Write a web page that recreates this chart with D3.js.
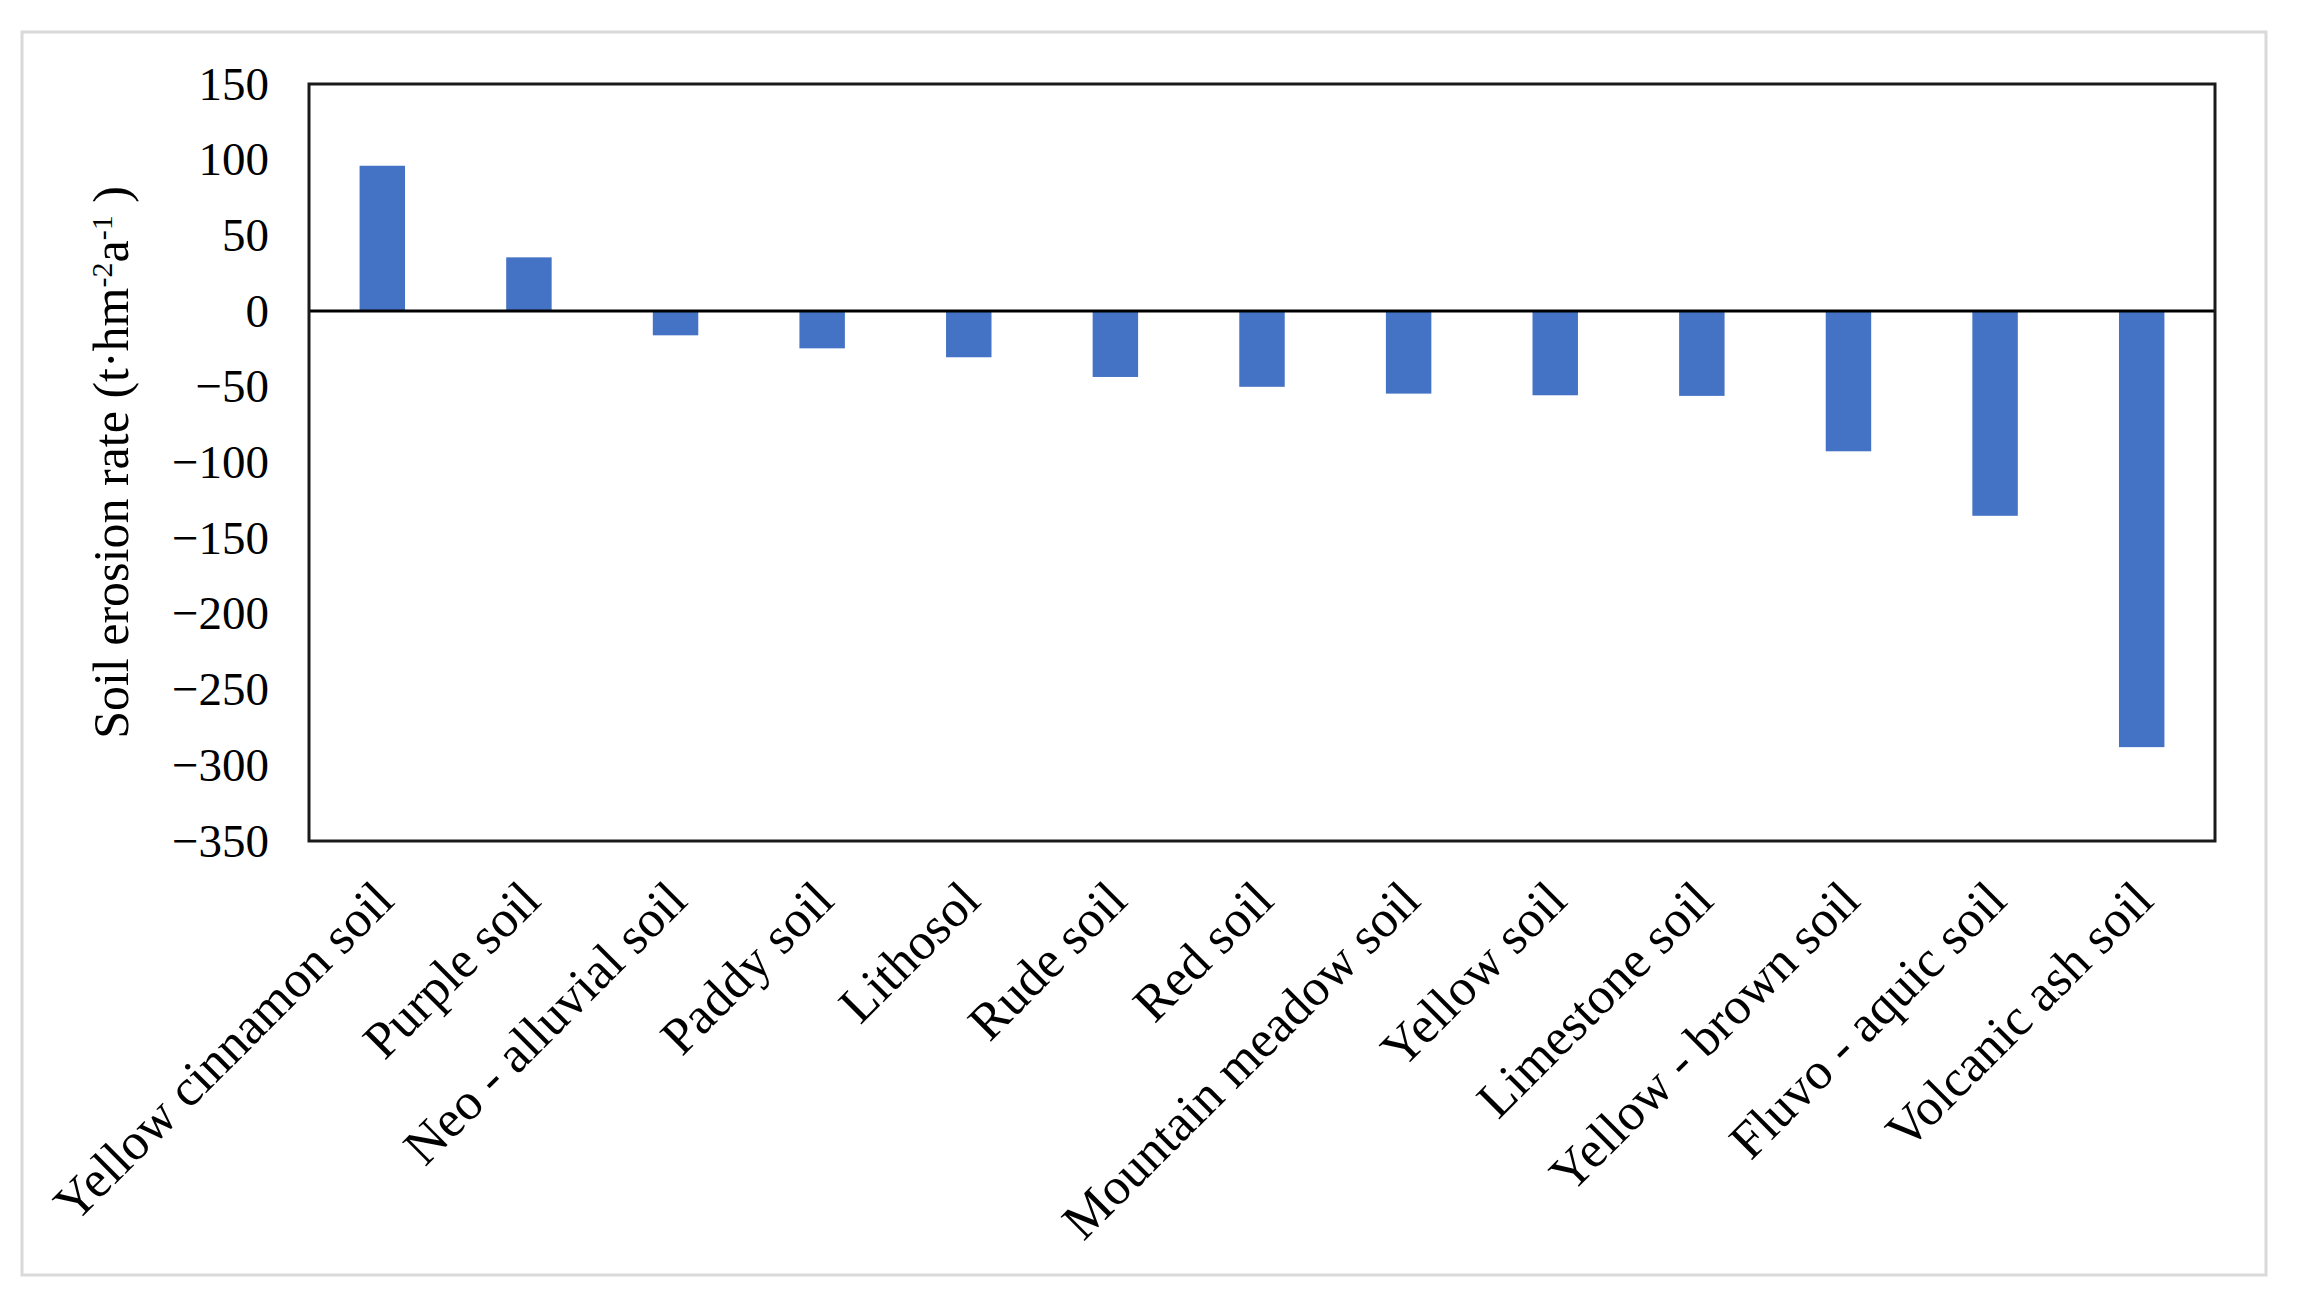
<!DOCTYPE html>
<html>
<head>
<meta charset="utf-8">
<script src="https://cdn.jsdelivr.net/npm/d3@7/dist/d3.min.js"></script>
<style>
  html, body { margin: 0; padding: 0; background: #ffffff; }
  svg text { font-family: "Liberation Serif", "Times New Roman", serif; fill: #000; }
</style>
</head>
<body>
<svg id="chart" width="2302" height="1309"></svg>
<script>
const categories = [
  "Yellow cinnamon soil", "Purple soil", "Neo - alluvial soil", "Paddy soil",
  "Lithosol", "Rude soil", "Red soil", "Mountain meadow soil", "Yellow soil",
  "Limestone soil", "Yellow - brown soil", "Fluvo - aquic soil", "Volcanic ash soil"
];
const erosionRate = [96, 35.5, -16, -24.6, -30.5, -43.5, -50, -54.5, -55.6, -56, -92.6, -135.2, -288];
const yTicks = [150, 100, 50, 0, -50, -100, -150, -200, -250, -300, -350];

const svg = d3.select("#chart");
const plot = { left: 309, top: 84, right: 2215, bottom: 841 };

// outer frame
svg.append("rect")
  .attr("x", 22).attr("y", 32)
  .attr("width", 2244).attr("height", 1243)
  .attr("fill", "#ffffff")
  .attr("stroke", "#d9d9d9").attr("stroke-width", 3);

const x = d3.scaleBand()
  .domain(categories)
  .range([plot.left, plot.right])
  .paddingInner(0.69).paddingOuter(0.345);

const y = d3.scaleLinear()
  .domain([-350, 150])
  .range([plot.bottom, plot.top]);

// bars
svg.append("g").selectAll("rect")
  .data(categories)
  .join("rect")
  .attr("x", d => x(d))
  .attr("width", x.bandwidth())
  .attr("y", (d, i) => y(Math.max(0, erosionRate[i])))
  .attr("height", (d, i) => Math.abs(y(erosionRate[i]) - y(0)))
  .attr("fill", "#4472C4");

// zero line
svg.append("line")
  .attr("x1", plot.left).attr("x2", plot.right)
  .attr("y1", y(0)).attr("y2", y(0))
  .attr("stroke", "#000").attr("stroke-width", 3);

// plot border
svg.append("rect")
  .attr("x", plot.left).attr("y", plot.top)
  .attr("width", plot.right - plot.left).attr("height", plot.bottom - plot.top)
  .attr("fill", "none")
  .attr("stroke", "#1a1a1a").attr("stroke-width", 3);

// y axis labels
const yAxis = d3.axisLeft(y)
  .tickValues(yTicks)
  .tickSize(0)
  .tickPadding(40)
  .tickFormat(d => d < 0 ? "\u2212" + Math.abs(d) : String(d));
const yg = svg.append("g")
  .attr("transform", `translate(${plot.left},0)`)
  .call(yAxis);
yg.select(".domain").remove();
yg.selectAll("text")
  .style("font-family", "'Liberation Serif', 'Times New Roman', serif")
  .style("font-size", "47px")
  .attr("fill", "#000");

// x axis labels rotated
const xAxis = d3.axisBottom(x).tickSize(0).tickPadding(0);
const xg = svg.append("g")
  .attr("transform", `translate(0,${plot.bottom})`)
  .call(xAxis);
xg.select(".domain").remove();
xg.selectAll(".tick text")
  .style("font-family", "'Liberation Serif', 'Times New Roman', serif")
  .style("font-size", "52px")
  .attr("fill", "#000")
  .attr("text-anchor", "end")
  .attr("dy", null)
  .attr("y", null)
  .attr("transform", "translate(14,62) rotate(-45)");

// y title
const title = svg.append("text")
  .attr("transform", `translate(128,${(plot.top + plot.bottom) / 2}) rotate(-90)`)
  .attr("text-anchor", "middle")
  .style("font-size", "50px");
title.append("tspan").text("Soil erosion rate (t\u00B7hm");
title.append("tspan").attr("baseline-shift", "super").style("font-size", "30px").text("-2");
title.append("tspan").text("a");
title.append("tspan").attr("baseline-shift", "super").style("font-size", "30px").text("-1");
title.append("tspan").text(" )");
</script>
</body>
</html>
